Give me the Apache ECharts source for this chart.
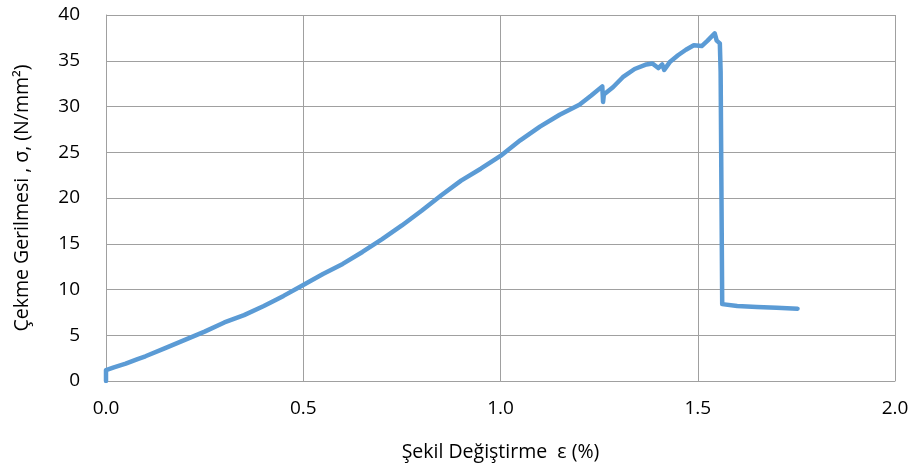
<!DOCTYPE html>
<html><head><meta charset="utf-8">
<script src="https://cdn.jsdelivr.net/npm/echarts@6/dist/echarts.min.js"></script>
<style>html,body{margin:0;padding:0;background:#fff}#c{width:917px;height:473px}</style>
</head><body><div id="c"></div>
<script>
const strain = [0.000,0.000,0.02,0.05,0.08,0.10,0.15,0.20,0.25,0.30,0.35,0.40,0.45,0.50,0.55,0.60,0.65,0.70,0.75,0.80,0.85,0.90,0.95,1.00,1.05,1.10,1.15,1.20,1.23,1.258,1.260,1.262,1.285,1.31,1.34,1.37,1.385,1.40,1.41,1.415,1.43,1.45,1.47,1.49,1.51,1.525,1.543,1.548,1.556,1.558,1.562,1.60,1.65,1.70,1.753];
const stress = [0.0,1.2,1.5,1.9,2.4,2.7,3.6,4.5,5.4,6.4,7.2,8.2,9.3,10.5,11.7,12.8,14.1,15.5,17.0,18.6,20.3,21.9,23.2,24.6,26.3,27.8,29.1,30.2,31.2,32.2,30.5,31.3,32.1,33.2,34.1,34.6,34.7,34.2,34.6,34.0,34.9,35.6,36.2,36.7,36.6,37.2,38.0,37.2,36.9,33.8,8.4,8.2,8.1,8.0,7.9];
const xTitle = 'Şekil Değiştirme  ε (%)';
const yTitle = 'Çekme Gerilmesi , σ, (N/mm²)';
const data = strain.map((x,i)=>[x,stress[i]]);
const font = '"Open Sans", "DejaVu Sans", sans-serif';
const chart = echarts.init(document.getElementById('c'));
chart.setOption({
  animation:false,
  grid:{left:106,right:22,top:15,bottom:92},
  xAxis:{type:'value',min:0,max:2,interval:0.5,
    name:xTitle,nameLocation:'middle',nameGap:61,
    nameTextStyle:{fontFamily:font,fontSize:19.5,color:'#000'},
    axisLine:{show:true,lineStyle:{color:'#A0A0A0',width:1}},
    axisTick:{show:false},
    splitLine:{show:true,lineStyle:{color:'#A0A0A0',width:1}},
    axisLabel:{fontFamily:font,fontSize:19,color:'#000',margin:18,formatter:v=>v.toFixed(1)}},
  yAxis:{type:'value',min:0,max:40,interval:5,
    name:yTitle,nameLocation:'middle',nameGap:74,
    nameTextStyle:{fontFamily:font,fontSize:19.5,color:'#000'},
    axisLine:{show:true,lineStyle:{color:'#A0A0A0',width:1}},
    axisTick:{show:false},
    splitLine:{show:true,lineStyle:{color:'#A0A0A0',width:1}},
    axisLabel:{fontFamily:font,fontSize:19,color:'#000',margin:26}},
  series:[{type:'line',data:data,showSymbol:false,
    lineStyle:{color:'#5B9BD5',width:4.5,join:'round',cap:'round'}}]
});
</script></body></html>
